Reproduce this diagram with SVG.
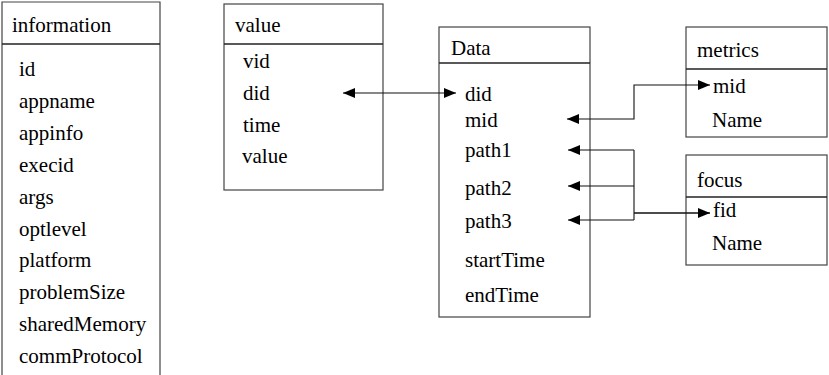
<svg xmlns="http://www.w3.org/2000/svg" width="829" height="375" viewBox="0 0 829 375">
<defs>
<marker id="ah" markerWidth="12" markerHeight="10" refX="12" refY="5" orient="auto-start-reverse" markerUnits="userSpaceOnUse">
<path d="M0,0 L12,5 L0,10 Z" fill="#000"/>
</marker>
</defs>
<rect width="829" height="375" fill="#fff"/>
<g id="information" font-family="Liberation Serif, Times New Roman, serif" font-size="21">
<path d="M2,376 V2 H160 V376" fill="#fff" stroke="#444" stroke-width="1.2"/>
<line x1="2" y1="44" x2="160" y2="44" stroke="#222" stroke-width="1.4"/>
<text x="12" y="32">information</text>
<text x="19" y="76">id</text>
<text x="19" y="108">appname</text>
<text x="19" y="140">appinfo</text>
<text x="19" y="172">execid</text>
<text x="19" y="204">args</text>
<text x="19" y="236">optlevel</text>
<text x="19" y="267">platform</text>
<text x="19" y="299">problemSize</text>
<text x="19" y="331">sharedMemory</text>
<text x="19" y="363">commProtocol</text>
</g>
<g id="value" font-family="Liberation Serif, Times New Roman, serif" font-size="21">
<rect x="224" y="4" width="159" height="186" fill="#fff" stroke="#444" stroke-width="1.2"/>
<line x1="224" y1="44" x2="383" y2="44" stroke="#222" stroke-width="1.4"/>
<text x="235" y="32">value</text>
<text x="243" y="68">vid</text>
<text x="243" y="100">did</text>
<text x="243" y="132">time</text>
<text x="242" y="163">value</text>
</g>
<g id="data" font-family="Liberation Serif, Times New Roman, serif" font-size="21">
<rect x="439" y="27" width="151" height="290" fill="#fff" stroke="#444" stroke-width="1.2"/>
<line x1="439" y1="63" x2="590" y2="63" stroke="#222" stroke-width="1.4"/>
<text x="451" y="55">Data</text>
<text x="465" y="101">did</text>
<text x="465" y="127">mid</text>
<text x="465" y="157">path1</text>
<text x="465" y="195">path2</text>
<text x="465" y="228">path3</text>
<text x="465" y="267">startTime</text>
<text x="465" y="302">endTime</text>
</g>
<g id="metrics" font-family="Liberation Serif, Times New Roman, serif" font-size="21">
<rect x="686" y="27" width="141" height="110" fill="#fff" stroke="#444" stroke-width="1.2"/>
<line x1="686" y1="69" x2="827" y2="69" stroke="#222" stroke-width="1.4"/>
<text x="697" y="57">metrics</text>
<text x="713" y="93">mid</text>
<text x="712" y="127">Name</text>
</g>
<g id="focus" font-family="Liberation Serif, Times New Roman, serif" font-size="21">
<rect x="686" y="155" width="141" height="110" fill="#fff" stroke="#444" stroke-width="1.2"/>
<line x1="686" y1="197" x2="827" y2="197" stroke="#222" stroke-width="1.4"/>
<text x="697" y="187">focus</text>
<text x="713" y="217">fid</text>
<text x="712" y="250">Name</text>
</g>
<g id="connectors" fill="none" stroke="#111" stroke-width="1.1">
<path d="M343,93 H456" marker-start="url(#ah)" marker-end="url(#ah)"/>
<path d="M567,119 H634 V85 H710" marker-start="url(#ah)" marker-end="url(#ah)"/>
<path d="M568,150 H634" marker-start="url(#ah)"/>
<path d="M568,186 H634" marker-start="url(#ah)"/>
<path d="M568,220 H634" marker-start="url(#ah)"/>
<path d="M634,150 V220"/>
<path d="M634,213 H710" stroke-width="1.6" marker-end="url(#ah)"/>
</g>
</svg>
